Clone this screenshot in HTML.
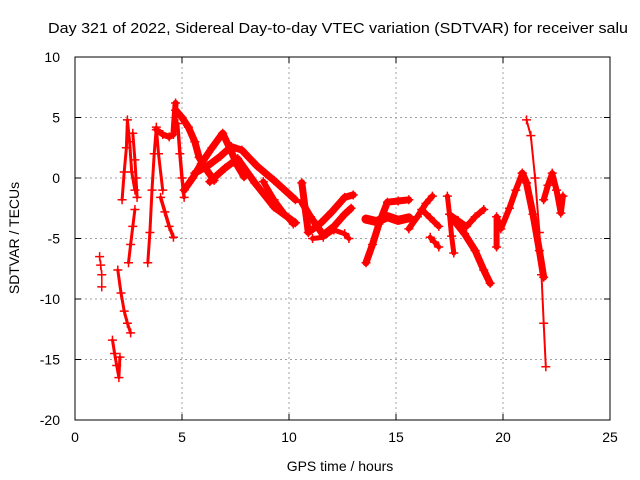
<!DOCTYPE html>
<html><head><meta charset="utf-8"><style>
html,body{margin:0;padding:0;background:#fff;}
svg{display:block;font-family:"Liberation Sans",sans-serif;}
</style></head><body>
<svg id="chart" width="640" height="480" viewBox="0 0 640 480" xmlns="http://www.w3.org/2000/svg">
<rect x="0" y="0" width="640" height="480" fill="#fff"/>
<text x="48" y="33" font-size="15" textLength="580" lengthAdjust="spacingAndGlyphs">Day 321 of 2022, Sidereal Day-to-day VTEC variation (SDTVAR) for receiver salu</text>
<g id="grid"></g>
<g id="axes"></g>
<g id="marks"></g>
<rect x="75" y="57" width="535" height="363" fill="none" stroke="#000" stroke-width="1"/>
<text x="340" y="471" font-size="14" text-anchor="middle">GPS time / hours</text>
<text transform="translate(19,238) rotate(-90)" font-size="14" text-anchor="middle">SDTVAR / TECUs</text>
</svg>
<script>
const xTicks = [0, 5, 10, 15, 20, 25];
const yTicks = [10, 5, 0, -5, -10, -15, -20];
// tracks: time (hours) and SDTVAR (TECU)
const tA = [1.15, 1.2, 1.25, 1.25];
const vA = [-6.5, -7.2, -8.0, -9.0];
const tB = [1.75, 1.85, 1.95, 2.05, 2.1];
const vB = [-13.4, -14.5, -15.5, -16.5, -14.8];
const tC = [2.0, 2.15, 2.3, 2.45, 2.6];
const vC = [-7.6, -9.5, -11.0, -12.0, -12.8];
const tD = [2.2, 2.3, 2.4, 2.45, 2.55, 2.65, 2.8];
const vD = [-1.8, 0.5, 2.5, 4.8, 3.0, 0.5, -1.0];
const tE = [2.5, 2.6, 2.7, 2.8];
const vE = [-7.0, -5.5, -4.0, -2.6];
const tF = [2.7, 2.8, 2.85, 2.9];
const vF = [3.7, 1.5, 0.0, -1.6];
const tG = [3.4, 3.5, 3.6, 3.7, 3.8, 3.9, 4.1];
const vG = [-7.0, -4.5, -1.0, 2.0, 4.2, 2.0, -1.0];
const tH = [3.8, 4.1, 4.4, 4.6, 4.7];
const vH = [4.0, 3.6, 3.4, 3.6, 6.2];
const tI = [4.0, 4.2, 4.4, 4.6];
const vI = [-1.6, -2.8, -4.0, -4.9];
const tJ = [4.8, 4.9, 5.0, 5.1];
const vJ = [4.5, 2.0, 0.0, -1.6];
const tK = [4.7, 5.0, 5.3, 5.6, 5.8, 6.1, 6.5];
const vK = [5.6, 5.0, 4.2, 3.0, 1.7, 0.8, -0.2];
const tL = [5.1, 5.5, 5.9, 6.4, 6.9, 7.3, 7.6, 7.9];
const vL = [-1.0, 0.0, 1.2, 2.5, 3.7, 2.2, 1.0, 0.1];
const tM = [5.6, 6.2, 6.8, 7.3, 7.8, 8.5, 9.3, 10.3];
const vM = [0.4, 1.0, 1.8, 2.6, 2.3, 1.0, -0.2, -1.8];
const tN = [6.3, 7.0, 7.6, 8.4, 9.3, 10.3];
const vN = [-0.3, 0.8, 1.6, -0.4, -2.4, -3.7];
const tO = [8.8, 9.3, 9.8, 10.2];
const vO = [-0.3, -1.8, -3.0, -3.8];
const tP = [10.6, 10.9, 11.5, 12.0, 12.6, 13.0];
const vP = [-0.4, -4.5, -3.7, -2.8, -1.6, -1.4];
const tQ = [10.6, 11.0, 11.6, 12.1, 12.6, 12.9];
const vQ = [-2.0, -3.2, -4.7, -4.0, -3.0, -2.5];
const tR = [11.1, 11.6, 12.1, 12.6, 12.8];
const vR = [-5.0, -4.9, -4.3, -4.6, -5.0];
const tS = [13.6, 13.9, 14.2, 14.6, 15.1, 15.6];
const vS = [-7.0, -5.5, -3.8, -2.0, -1.9, -1.8];
const tT = [13.6, 14.1, 14.6, 15.1, 15.6];
const vT = [-3.4, -3.6, -3.2, -3.5, -3.3];
const tU = [15.6, 16.0, 16.4, 16.7];
const vU = [-4.2, -3.2, -2.1, -1.5];
const tV = [16.2, 16.6, 17.0];
const vV = [-2.6, -3.3, -4.0];
const tW = [16.6, 16.8, 17.0];
const vW = [-4.9, -5.3, -5.7];
const tX = [17.4, 17.5, 17.6, 17.7];
const vX = [-1.5, -3.0, -4.8, -6.2];
const tY = [17.7, 18.2, 18.7, 19.1, 19.4];
const vY = [-3.5, -4.6, -6.0, -7.6, -8.7];
const tZ = [17.5, 17.9, 18.3, 18.7, 19.1];
const vZ = [-3.0, -3.5, -4.0, -3.2, -2.6];
const tAA = [19.7, 19.7, 19.9, 20.3, 20.6, 20.9];
const vAA = [-5.7, -3.2, -4.2, -2.5, -1.0, 0.4];
const tAB = [20.9, 21.1, 21.4, 21.7, 21.9];
const vAB = [0.4, -0.4, -3.0, -6.0, -8.2];
const tAC = [21.1, 21.3, 21.5, 21.7, 21.8, 21.9, 22.0];
const vAC = [4.8, 3.5, 0.0, -4.5, -8.0, -12.0, -15.6];
const tAD = [21.9, 22.1, 22.3, 22.5, 22.7, 22.8];
const vAD = [-1.8, -0.6, 0.4, -1.0, -2.9, -1.5];
const tracks = [[tA,vA,1.5],[tB,vB,3],[tC,vC,3],[tD,vD,3],[tE,vE,3],[tF,vF,3],[tG,vG,3],[tH,vH,6],[tI,vI,3.5],[tJ,vJ,3.5],[tK,vK,7],[tL,vL,7],[tM,vM,7],[tN,vN,7],[tO,vO,6],[tP,vP,7],[tQ,vQ,7],[tR,vR,5],[tS,vS,7],[tT,vT,9],[tU,vU,6],[tV,vV,6],[tW,vW,5],[tX,vX,5],[tY,vY,7],[tZ,vZ,6],[tAA,vAA,6],[tAB,vAB,7],[tAC,vAC,2],[tAD,vAD,6]];

const NS = "http://www.w3.org/2000/svg";
const X0 = 75, X1 = 610, Y0 = 420, Y1 = 57;
function xs(t){ return X0 + (t - 0) / 25 * (X1 - X0); }
function ys(v){ return Y0 - (v + 20) / 30 * (Y0 - Y1); }
function mk(tag, attrs){ const e = document.createElementNS(NS, tag); for (const k in attrs) e.setAttribute(k, attrs[k]); return e; }
const grid = document.getElementById('grid'), axes = document.getElementById('axes'), marks = document.getElementById('marks');
xTicks.forEach(t => {
  const x = xs(t);
  if (t > 0 && t < 25) {
    const g = mk('line', {x1:x, x2:x, y1:Y1, y2:Y0, stroke:'#a0a0a0', 'stroke-dasharray':'2,3'});
    
    
    grid.appendChild(g);
  }
  const tk = mk('path', {d:`M${x},${Y0}v-6M${x},${Y1}v6`, stroke:'#000'});
  
  
  axes.appendChild(tk);
  const lb = mk('text', {x:x, y:Y0+22, 'font-size':14, 'text-anchor':'middle'});
  lb.textContent = t;
  
  
  axes.appendChild(lb);
});
yTicks.forEach(v => {
  const y = ys(v);
  if (v > -20 && v < 10) {
    const g = mk('line', {x1:X0, x2:X1, y1:y, y2:y, stroke:'#a0a0a0', 'stroke-dasharray':'2,3'});
    
    
    grid.appendChild(g);
  }
  const tk = mk('path', {d:`M${X0},${y}h6M${X1},${y}h-6`, stroke:'#000'});
  
  
  axes.appendChild(tk);
  const lb = mk('text', {x:X0-15, y:y+5, 'font-size':14, 'text-anchor':'end'});
  lb.textContent = v;
  
  
  axes.appendChild(lb);
});
tracks.forEach(tr => {
  const [ts, vs, w] = tr;
  const pts = ts.map((t,i) => xs(t).toFixed(1) + ',' + ys(vs[i]).toFixed(1)).join(' ');
  const pl = mk('polyline', {points:pts, fill:'none', stroke:'#ff0000', 'stroke-width':w, 'stroke-linejoin':'round', 'stroke-linecap':'round'});
  
  
  marks.appendChild(pl);
  ts.forEach((t,i) => {
    const x = xs(t), y = ys(vs[i]);
    const p = mk('path', {d:`M${x-4.5},${y}h9M${x},${y-4.5}v9`, stroke:'#ff0000', 'stroke-width':1.5});
    
    
    marks.appendChild(p);
  });
});
</script>
</body></html>
